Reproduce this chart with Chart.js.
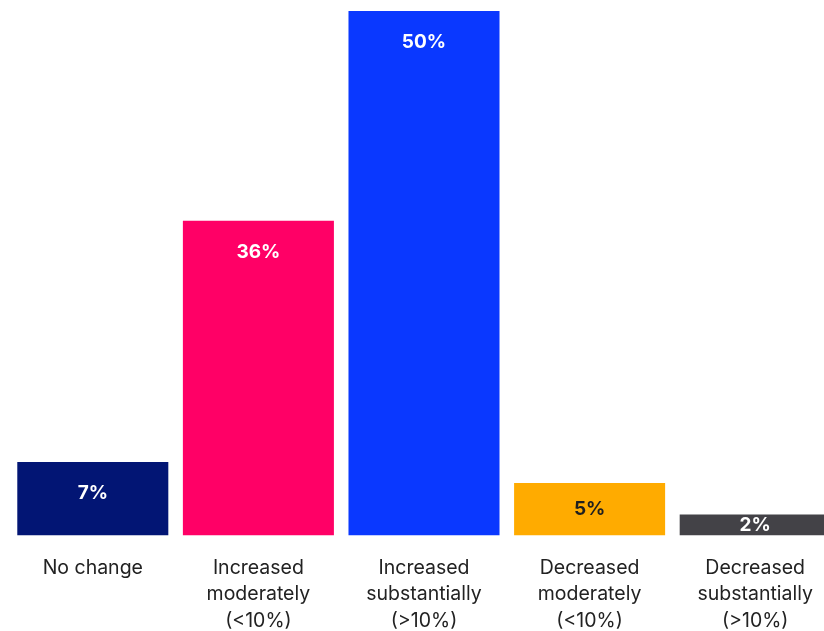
<!DOCTYPE html>
<html>
<head>
<meta charset="utf-8">
<script src="https://cdn.jsdelivr.net/npm/chart.js@4"></script>
<style>
    html, body { margin: 0; padding: 0; background: #fff; overflow: hidden; }
    /* chart runs a little past the right and bottom edges, like the reference */
    #wrap { width: 848px; height: 645px; position: relative; }
</style>
</head>
<body>
<div id="wrap"><canvas id="chart-bars"></canvas></div>
<script>
// categories (multi-line tick labels)
const categories = [
    ['No change'],
    ['Increased', 'moderately', '(<10%)'],
    ['Increased', 'substantially', '(>10%)'],
    ['Decreased', 'moderately', '(<10%)'],
    ['Decreased', 'substantially', '(>10%)'],
];
// printed share for each answer
const shareLabels = ['7%', '36%', '50%', '5%', '2%'];
// bar heights as drawn in the picture (percent)
const barValues = [7, 30, 50, 5, 2];
const barColors = ['#021574', '#ff0066', '#0a38ff', '#ffab00', '#434247'];
const labelColors = ['#ffffff', '#ffffff', '#ffffff', '#1f1f1f', '#ffffff'];

const valueLabels = {
    id: 'valueLabels',
    afterDatasetsDraw(chart) {
        const ctx = chart.ctx;
        const meta = chart.getDatasetMeta(0);
        ctx.save();
        ctx.font = 'bold 19px Inter, "Noto Sans", sans-serif';
        ctx.textAlign = 'center';
        ctx.textBaseline = 'middle';
        meta.data.forEach((bar, i) => {
            const h = bar.base - bar.y;
            ctx.fillStyle = labelColors[i];
            ctx.fillText(shareLabels[i], bar.x, bar.y + Math.min(31, h / 2));
        });
        ctx.restore();
    },
};

new Chart(document.getElementById('chart-bars').getContext('2d'), {
    type: 'bar',
    data: {
        labels: categories,
        datasets: [
            {
                data: barValues,
                backgroundColor: barColors,
                barPercentage: 0.912,
                categoryPercentage: 1,
            },
        ],
    },
    options: {
        responsive: true,
        maintainAspectRatio: false,
        animation: false,
        layout: { padding: { left: 10, right: 10, top: 11, bottom: 0 } },
        plugins: { legend: { display: false }, tooltip: { enabled: false } },
        scales: {
            x: {
                grid: { display: false },
                border: { display: false },
                ticks: {
                    color: '#222222',
                    padding: 11,
                    maxRotation: 0,
                    autoSkip: false,
                    font: { family: 'Inter, "Noto Sans", sans-serif', size: 19.5, lineHeight: '26.5px' },
                },
            },
            y: { display: false, min: 0, max: 50 },
        },
    },
    plugins: [valueLabels],
});
</script>
</body>
</html>
